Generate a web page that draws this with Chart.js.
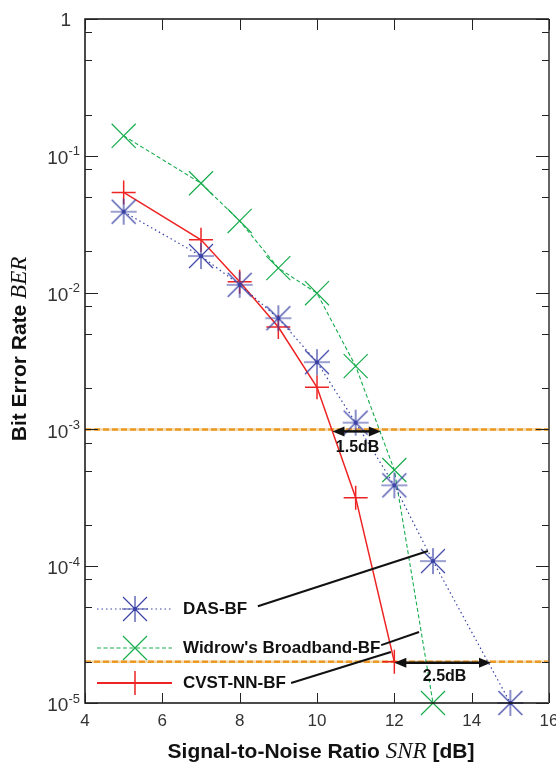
<!DOCTYPE html>
<html>
<head>
<meta charset="utf-8">
<script src="https://cdn.jsdelivr.net/npm/chart.js@4.4.1/dist/chart.umd.min.js"></script>
<style>
  html, body { margin: 0; padding: 0; background: #fff; overflow: hidden; }
  canvas { display: block; }
</style>
</head>
<body>
<canvas id="ber" width="556" height="767"></canvas>
<script>
// values
const snrDas = [5, 7, 8, 9, 10, 11, 12, 13, 15];
const berDas = [0.039, 0.0185, 0.0114, 0.0065, 0.0031, 0.00112, 0.00039, 0.000109, 0.00001];
const snrWidrow = [5, 7, 8, 9, 10, 11, 12, 13];
const berWidrow = [0.14, 0.063, 0.0334, 0.0151, 0.0099, 0.0029, 0.000505, 0.00001];
const snrCvst = [5, 7, 8, 9, 10, 11, 12];
const berCvst = [0.054, 0.0243, 0.012, 0.0056, 0.00203, 0.000317, 0.00002];
const seriesNames = ['DAS-BF', "Widrow's Broadband-BF", 'CVST-NN-BF'];
const xTicks = [4, 6, 8, 10, 12, 14, 16];
const yExponents = [-5, -4, -3, -2, -1, 0];
const minorMult = [2, 5, 8];
const refLevels = [1e-3, 2e-5];
const gapLabels = ['1.5dB', '2.5dB'];

const blue = '#3b44a6', green = '#17ad4d', red = '#ee2424', orange = '#eb9a26';
const narrow = "'Liberation Sans Narrow', 'Liberation Sans', Arial, sans-serif";
const sans = "'Liberation Sans', Arial, Helvetica, sans-serif";
const serif = "'Liberation Serif', 'Times New Roman', serif";

const pts = (xs, ys) => xs.map((x, i) => ({ x: x, y: ys[i] }));

function makeStar(color, r) {
  const c = document.createElement('canvas');
  c.width = c.height = 2 * r + 4;
  const g = c.getContext('2d');
  const m = r + 2, d = r * 0.92;
  g.strokeStyle = color;
  g.lineWidth = 1.2;
  g.beginPath();
  g.moveTo(m - r, m); g.lineTo(m + r, m);
  g.moveTo(m, m - r); g.lineTo(m, m + r);
  g.moveTo(m - d, m - d); g.lineTo(m + d, m + d);
  g.moveTo(m - d, m + d); g.lineTo(m + d, m - d);
  g.stroke();
  g.fillStyle = color;
  g.beginPath(); g.arc(m, m, 2, 0, Math.PI * 2); g.fill();
  return c;
}
const starImg = makeStar(blue, 13);

function arrow(ctx, x1, x2, y) {
  const h = 12, w = 5;
  ctx.save();
  ctx.strokeStyle = '#111'; ctx.fillStyle = '#111'; ctx.lineWidth = 2.5;
  ctx.beginPath(); ctx.moveTo(x1 + h - 2, y); ctx.lineTo(x2 - h + 2, y); ctx.stroke();
  ctx.beginPath(); ctx.moveTo(x1, y); ctx.lineTo(x1 + h, y - w); ctx.lineTo(x1 + h, y + w); ctx.closePath(); ctx.fill();
  ctx.beginPath(); ctx.moveTo(x2, y); ctx.lineTo(x2 - h, y - w); ctx.lineTo(x2 - h, y + w); ctx.closePath(); ctx.fill();
  ctx.restore();
}

const decor = {
  id: 'decor',
  afterDatasetsDraw(chart) {
    const ctx = chart.ctx, xs = chart.scales.x, ys = chart.scales.y;
    const px = v => xs.getPixelForValue(v), py = v => ys.getPixelForValue(v);
    // gap arrows on the reference levels
    arrow(ctx, px(10.4), px(11.65), py(refLevels[0]) + 2);
    arrow(ctx, px(12.0), px(14.5), py(refLevels[1]) + 1);
    ctx.save();
    ctx.fillStyle = '#111';
    ctx.font = 'bold 16px ' + sans;
    ctx.textAlign = 'center'; ctx.textBaseline = 'middle';
    ctx.fillText(gapLabels[0], px(11.05), py(refLevels[0]) + 18);
    ctx.fillText(gapLabels[1], px(13.3), py(refLevels[1]) + 15);
    // leader lines from legend labels to curves
    ctx.strokeStyle = '#111'; ctx.lineWidth = 2;
    const leaders = [[8.47, 5.1e-5, 12.87, 1.29e-4], [11.66, 2.65e-5, 12.64, 3.3e-5], [9.33, 1.4e-5, 11.91, 2.36e-5]];
    leaders.forEach(l => {
      ctx.beginPath(); ctx.moveTo(px(l[0]), py(l[1])); ctx.lineTo(px(l[2]), py(l[3])); ctx.stroke();
    });
    ctx.restore();
  },
  afterDraw(chart) {
    const ctx = chart.ctx, a = chart.chartArea, xs = chart.scales.x, ys = chart.scales.y;
    ctx.save();
    // frame
    ctx.lineWidth = 1.5; ctx.strokeStyle = '#111';
    ctx.beginPath();
    ctx.moveTo(a.right, a.top); ctx.lineTo(a.left, a.top); ctx.lineTo(a.left, a.bottom); ctx.lineTo(a.right, a.bottom);
    ctx.stroke();
    ctx.strokeStyle = '#666'; ctx.lineWidth = 2;
    ctx.beginPath(); ctx.moveTo(a.right, a.top); ctx.lineTo(a.right, a.bottom); ctx.stroke();
    // inward ticks and x labels
    ctx.strokeStyle = '#222'; ctx.lineWidth = 1;
    xTicks.forEach(v => {
      const x = Math.round(xs.getPixelForValue(v)) + 0.5;
      ctx.beginPath();
      ctx.moveTo(x, a.bottom); ctx.lineTo(x, a.bottom - 10);
      ctx.moveTo(x, a.top); ctx.lineTo(x, a.top + 11);
      ctx.stroke();
      ctx.fillStyle = '#333'; ctx.font = '17px ' + narrow;
      ctx.textAlign = 'center'; ctx.textBaseline = 'middle';
      ctx.fillText(String(v), xs.getPixelForValue(v), a.bottom + 18);
    });
    yExponents.forEach(e => {
      const y = Math.round(ys.getPixelForValue(Math.pow(10, e))) + 0.5;
      ctx.beginPath();
      ctx.moveTo(a.left, y); ctx.lineTo(a.left + 13, y);
      ctx.moveTo(a.right, y); ctx.lineTo(a.right - 13, y);
      ctx.stroke();
      if (e < 0) {
        minorMult.forEach(m => {
          const ym = Math.round(ys.getPixelForValue(m * Math.pow(10, e))) + 0.5;
          ctx.beginPath();
          ctx.moveTo(a.left, ym); ctx.lineTo(a.left + 7, ym);
          ctx.moveTo(a.right, ym); ctx.lineTo(a.right - 7, ym);
          ctx.stroke();
        });
      }
      // tick label 10^e
      ctx.fillStyle = '#333'; ctx.textBaseline = 'middle';
      const yl = ys.getPixelForValue(Math.pow(10, e));
      if (e === 0) {
        ctx.font = '19px ' + narrow; ctx.textAlign = 'right';
        ctx.fillText('1', a.left - 14, yl + 2);
      } else {
        const ex = String(e);
        ctx.font = '13px ' + narrow;
        const we = ctx.measureText(ex).width;
        ctx.textAlign = 'left';
        ctx.fillText(ex, a.left - 5 - we, yl - 4);
        ctx.font = '19px ' + narrow; ctx.textAlign = 'right';
        ctx.fillText('10', a.left - 5 - we, yl + 3);
      }
    });
    // axis titles
    ctx.fillStyle = '#111'; ctx.textBaseline = 'middle'; ctx.textAlign = 'left';
    const xParts = [['bold 21px ' + sans, 'Signal-to-Noise Ratio '], ['italic 23px ' + serif, 'SNR'], ['bold 21px ' + sans, ' [dB]']];
    const yParts = [['bold 21px ' + sans, 'Bit Error Rate '], ['italic 23px ' + serif, 'BER']];
    const widthOf = parts => parts.reduce((s, p) => { ctx.font = p[0]; return s + ctx.measureText(p[1]).width; }, 0);
    let cx = 321 - widthOf(xParts) / 2;
    xParts.forEach(p => { ctx.font = p[0]; ctx.fillText(p[1], cx, 752); cx += ctx.measureText(p[1]).width; });
    ctx.save();
    ctx.translate(20, 349); ctx.rotate(-Math.PI / 2);
    cx = -widthOf(yParts) / 2;
    yParts.forEach(p => { ctx.font = p[0]; ctx.fillText(p[1], cx, 0); cx += ctx.measureText(p[1]).width; });
    ctx.restore();
    // legend
    const rows = [609, 648, 683];
    chart.data.datasets.slice(0, 3).forEach((ds, i) => {
      const y = rows[i];
      ctx.strokeStyle = ds.borderColor; ctx.lineWidth = i === 2 ? 2 : 1.2;
      ctx.setLineDash(ds.borderDash || []);
      ctx.beginPath(); ctx.moveTo(97, y); ctx.lineTo(172, y); ctx.stroke();
      ctx.setLineDash([]);
      ctx.lineWidth = i === 2 ? 1.5 : 1.2;
      ctx.beginPath();
      if (i === 0) {
        ctx.drawImage(starImg, 135 - starImg.width / 2, y - starImg.height / 2);
      } else if (i === 1) {
        ctx.moveTo(123, y - 12); ctx.lineTo(147, y + 12);
        ctx.moveTo(123, y + 12); ctx.lineTo(147, y - 12);
      } else {
        ctx.moveTo(123, y); ctx.lineTo(147, y);
        ctx.moveTo(135, y - 12); ctx.lineTo(135, y + 12);
      }
      ctx.stroke();
      ctx.fillStyle = '#111'; ctx.font = 'bold 17px ' + sans;
      ctx.textAlign = 'left'; ctx.textBaseline = 'middle';
      ctx.fillText(ds.label, 183, y);
    });
    ctx.restore();
  }
};

new Chart(document.getElementById('ber'), {
  type: 'line',
  data: {
    datasets: [
      {
        label: seriesNames[0], data: pts(snrDas, berDas),
        borderColor: blue, borderWidth: 1.2, borderDash: [1.5, 3],
        pointStyle: starImg, pointRadius: 13, clip: false
      },
      {
        label: seriesNames[1], data: pts(snrWidrow, berWidrow),
        borderColor: green, borderWidth: 1.1, borderDash: [4, 2.5],
        pointStyle: 'crossRot', pointRadius: 17, pointBorderWidth: 1.2,
        pointBorderColor: green, clip: false
      },
      {
        label: seriesNames[2], data: pts(snrCvst, berCvst),
        borderColor: red, borderWidth: 1.5,
        pointStyle: 'cross', pointRadius: 12, pointBorderWidth: 1.5,
        pointBorderColor: red, clip: false
      },
      // reference levels: dashes drawn over a light underlay
      { label: 'ref1b', data: pts([4, 16], [refLevels[0], refLevels[0]]), borderColor: orange, borderWidth: 2.5, borderDash: [6, 3], pointRadius: 0 },
      { label: 'ref1a', data: pts([4, 16], [refLevels[0], refLevels[0]]), borderColor: '#f3d7a8', borderWidth: 2.5, pointRadius: 0 },
      { label: 'ref2b', data: pts([4, 16], [refLevels[1], refLevels[1]]), borderColor: orange, borderWidth: 2.5, borderDash: [6, 3], pointRadius: 0 },
      { label: 'ref2a', data: pts([4, 16], [refLevels[1], refLevels[1]]), borderColor: '#f3d7a8', borderWidth: 2.5, pointRadius: 0 }
    ]
  },
  options: {
    responsive: false,
    animation: false,
    events: [],
    layout: { autoPadding: false, padding: { top: 19, right: 7, left: 0, bottom: 0 } },
    plugins: { legend: { display: false }, tooltip: { enabled: false } },
    elements: { line: { tension: 0 } },
    scales: {
      x: {
        type: 'linear', min: 4, max: 16,
        ticks: { display: false },
        grid: { display: false, drawTicks: false },
        border: { display: false },
        afterFit: s => { s.height = 64; }
      },
      y: {
        type: 'logarithmic', min: 1e-5, max: 1,
        ticks: { display: false },
        grid: { display: false, drawTicks: false },
        border: { display: false },
        afterFit: s => { s.width = 85; }
      }
    }
  },
  plugins: [decor]
});
</script>
</body>
</html>
